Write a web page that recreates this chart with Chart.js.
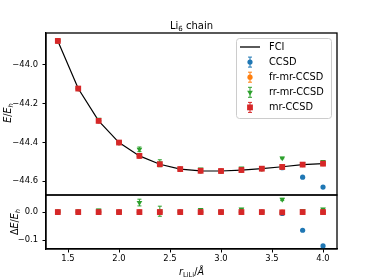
<!DOCTYPE html>
<html>
<head>
<meta charset="utf-8">
<script src="https://cdn.jsdelivr.net/npm/chart.js@4/dist/chart.umd.min.js"></script>
<style>
html, body { margin: 0; padding: 0; background: #fff; }
#wrap { width: 374px; height: 280px; }
</style>
</head>
<body>
<div id="wrap"><canvas id="chart" width="374" height="280"></canvas></div>
<script>
// bond lengths (Å)
const R = [1.4, 1.6, 1.8, 2.0, 2.2, 2.4, 2.6, 2.8, 3.0, 3.2, 3.4, 3.6, 3.8, 4.0];

// total energies (E_h), top panel
const FCI    = [-43.876, -44.122, -44.289, -44.401, -44.470, -44.513, -44.538, -44.547, -44.548, -44.543, -44.536, -44.526, -44.515, -44.510];
const CCSD_E = [-43.876, -44.122, -44.289, -44.401, -44.470, -44.513, -44.538, -44.547, -44.548, -44.543, -44.536, -44.531, -44.580, -44.631];
const FR_E   = [-43.876, -44.122, -44.289, -44.401, -44.470, -44.513, -44.538, -44.547, -44.548, -44.543, -44.536, -44.526, -44.515, -44.510];
const RR_E   = [-43.874, -44.120, -44.282, -44.400, -44.436, -44.508, -44.537, -44.538, -44.547, -44.533, -44.535, -44.481, -44.511, -44.500];
const MR_E   = [-43.876, -44.122, -44.289, -44.401, -44.470, -44.513, -44.538, -44.547, -44.548, -44.543, -44.536, -44.527, -44.515, -44.510];

// deviations from FCI (E_h), bottom panel
const CCSD_D = [0.0, 0.0, 0.0, 0.0, 0.0, 0.0, 0.0, 0.0, 0.0, 0.0, 0.0, -0.005, -0.065, -0.121];
const FR_D   = [0.0, 0.0, 0.0, 0.0, 0.0, 0.0, 0.0, 0.0, 0.0, 0.0, 0.0, 0.0, 0.0, 0.0];
const RR_D   = [0.002, 0.002, 0.007, 0.001, 0.034, 0.003, 0.001, 0.009, 0.001, 0.010, 0.001, 0.045, 0.004, 0.010];
const MR_D   = [0.0, 0.0, 0.0, 0.0, 0.0, 0.0, 0.0, 0.0, 0.0, 0.0, 0.0, -0.001, 0.0, 0.0];
const RR_ERR = [0.0, 0.0, 0.003, 0.0, 0.012, 0.018, 0.0, 0.003, 0.0, 0.003, 0.0, 0.004, 0.002, 0.003];

const X_TICKS = [1.5, 2.0, 2.5, 3.0, 3.5, 4.0];
const E_TICKS = [-44.6, -44.4, -44.2, -44.0];
const D_TICKS = [-0.1, 0.0];
const SERIES = ['FCI', 'CCSD', 'fr-mr-CCSD', 'rr-mr-CCSD', 'mr-CCSD'];

const BLUE = '#1f77b4', ORANGE = '#ff7f0e', GREEN = '#2ca02c', RED = '#d62728';
const FONT = 'DejaVu Sans';
const FS = 8.4;      // tick labels
const LEG_FS = 9.8;  // legend
const LAB_FS = 9.6;  // axis labels

const pts = ys => R.map((x, i) => ({ x: x, y: ys[i] }));
const fmt = v => Number(v).toFixed(1).replace('-', '\u2212');

function marker(label, ys, axis, color, style, radius, rot, order, err) {
    return {
        label: label,
        data: pts(ys),
        yAxisID: axis,
        showLine: false,
        backgroundColor: color,
        borderColor: color,
        pointStyle: style,
        pointRadius: radius,
        pointRotation: rot,
        pointBorderWidth: 0,
        order: order,
        err: err
    };
}

// error bars drawn just before each dataset's markers
const errorBars = {
    id: 'errorBars',
    beforeDatasetDraw(chart, args) {
        const ds = chart.data.datasets[args.index];
        if (!ds.err) return;
        const ys = chart.scales[ds.yAxisID];
        const ctx = chart.ctx;
        ctx.save();
        ctx.strokeStyle = ds.borderColor;
        ctx.lineWidth = 1;
        args.meta.data.forEach((p, i) => {
            const e = ds.err[i];
            if (!e) return;
            const v = ds.data[i].y;
            const y1 = ys.getPixelForValue(v + e), y2 = ys.getPixelForValue(v - e);
            ctx.beginPath();
            ctx.moveTo(p.x, y1); ctx.lineTo(p.x, y2);
            ctx.moveTo(p.x - 2, y1); ctx.lineTo(p.x + 2, y1);
            ctx.moveTo(p.x - 2, y2); ctx.lineTo(p.x + 2, y2);
            ctx.stroke();
        });
        ctx.restore();
    }
};

// text with italic / subscript pieces
function richText(ctx, parts, cx, cy, rotate) {
    const font = p => (p.it ? 'italic ' : '') + (p.sub ? LAB_FS * 0.7 : LAB_FS) + 'px "' + FONT + '"';
    let w = 0;
    parts.forEach(p => { ctx.font = font(p); p.w = ctx.measureText(p.t).width; w += p.w; });
    ctx.save();
    ctx.translate(cx, cy);
    if (rotate) ctx.rotate(-Math.PI / 2);
    ctx.fillStyle = '#000';
    ctx.textBaseline = 'alphabetic';
    let x = -w / 2;
    parts.forEach(p => {
        ctx.font = font(p);
        ctx.fillText(p.t, x, 3.5 + (p.sub ? 2 : 0));
        x += p.w;
    });
    ctx.restore();
}

const decor = {
    id: 'decor',
    afterDraw(chart) {
        const ctx = chart.ctx;
        const a = chart.chartArea;
        const split = chart.scales.y.bottom;

        // axes frames
        ctx.save();
        ctx.strokeStyle = '#000';
        ctx.lineWidth = 1.3;
        ctx.strokeRect(a.left, a.top, a.right - a.left, split - a.top);
        ctx.strokeRect(a.left, split, a.right - a.left, a.bottom - split);
        ctx.restore();

        // title and axis labels
        const mid = (a.left + a.right) / 2;
        ctx.save();
        ctx.fillStyle = '#000';
        ctx.textAlign = 'left';
        ctx.textBaseline = 'alphabetic';
        const big = '10px "' + FONT + '"', small = '7px "' + FONT + '"';
        const t1 = 'Li', t2 = '6', t3 = ' chain';
        ctx.font = big;
        const w1 = ctx.measureText(t1).width, w3 = ctx.measureText(t3).width;
        ctx.font = small;
        const w2 = ctx.measureText(t2).width;
        const tx = mid - (w1 + w2 + w3) / 2;
        ctx.font = big;
        ctx.fillText(t1, tx, 29);
        ctx.fillText(t3, tx + w1 + w2, 29);
        ctx.font = small;
        ctx.fillText(t2, tx + w1, 31);
        ctx.restore();

        richText(ctx, [{ t: 'r', it: true }, { t: 'LiLi', sub: true }, { t: '/' }, { t: 'Å', it: true }], mid, 271, false);
        richText(ctx, [{ t: 'E', it: true }, { t: '/' }, { t: 'E', it: true }, { t: 'h', it: true, sub: true }], 7, 113, true);
        richText(ctx, [{ t: 'Δ' }, { t: 'E', it: true }, { t: '/' }, { t: 'E', it: true }, { t: 'h', it: true, sub: true }], 14.5, (split + a.bottom) / 2, true);

        // legend
        const lx = 236, ly = 38, lw = 95, lh = 80;
        ctx.save();
        ctx.fillStyle = 'rgba(255,255,255,0.8)';
        ctx.strokeStyle = '#cccccc';
        ctx.lineWidth = 1;
        ctx.beginPath();
        ctx.roundRect(lx + 0.5, ly + 0.5, lw, lh, 3);
        ctx.fill();
        ctx.stroke();
        const items = chart.data.datasets.filter(d => d.yAxisID === 'y');
        items.forEach((d, i) => {
            const y = ly + 9 + i * 15.1;
            const x = 250;
            if (d.showLine) {
                ctx.strokeStyle = '#000';
                ctx.lineWidth = 1.3;
                ctx.beginPath();
                ctx.moveTo(240, y); ctx.lineTo(260, y);
                ctx.stroke();
            } else {
                ctx.strokeStyle = d.borderColor;
                ctx.lineWidth = 1;
                ctx.beginPath();
                ctx.moveTo(x, y - 5); ctx.lineTo(x, y + 5);
                ctx.moveTo(x - 2, y - 5); ctx.lineTo(x + 2, y - 5);
                ctx.moveTo(x - 2, y + 5); ctx.lineTo(x + 2, y + 5);
                ctx.stroke();
                ctx.fillStyle = d.backgroundColor;
                Chart.helpers.drawPoint(ctx, { pointStyle: d.pointStyle, radius: d.pointRadius, rotation: d.pointRotation, borderWidth: 0 }, x, y);
            }
            ctx.fillStyle = '#000';
            ctx.font = LEG_FS + 'px "' + FONT + '"';
            ctx.textBaseline = 'middle';
            ctx.fillText(d.label, 269, y + 0.5);
        });
        ctx.restore();
    }
};

const tickFont = { family: FONT, size: FS };

new Chart(document.getElementById('chart'), {
    type: 'scatter',
    data: {
        datasets: [
            { label: SERIES[0], data: pts(FCI), yAxisID: 'y', type: 'line', showLine: true, borderColor: '#000', borderWidth: 1.2, pointRadius: 0, fill: false, order: 10 },
            marker(SERIES[1], CCSD_E, 'y', BLUE, 'circle', 2.6, 0, 8, null),
            marker(SERIES[2], FR_E, 'y', ORANGE, 'circle', 2.6, 0, 7, null),
            marker(SERIES[3], RR_E, 'y', GREEN, 'triangle', 3.3, 180, 6, RR_ERR),
            marker(SERIES[4], MR_E, 'y', RED, 'rect', 4.1, 0, 5, null),
            marker(SERIES[1], CCSD_D, 'y2', BLUE, 'circle', 2.6, 0, 4, null),
            marker(SERIES[2], FR_D, 'y2', ORANGE, 'circle', 2.6, 0, 3, null),
            marker(SERIES[3], RR_D, 'y2', GREEN, 'triangle', 3.3, 180, 2, RR_ERR),
            marker(SERIES[4], MR_D, 'y2', RED, 'rect', 4.1, 0, 1, null)
        ]
    },
    options: {
        responsive: false,
        animation: false,
        devicePixelRatio: 1,
        layout: { padding: { top: 33, right: 37, left: 0, bottom: 0 } },
        plugins: { legend: { display: false }, tooltip: { enabled: false }, title: { display: false } },
        scales: {
            x: {
                type: 'linear',
                min: 1.284,
                max: 4.137,
                afterBuildTicks: s => { s.ticks = X_TICKS.map(v => ({ value: v })); },
                afterFit: s => { s.height = 31; },
                grid: { drawOnChartArea: false, drawTicks: true, tickLength: 3.5, color: '#000' },
                border: { color: '#000', width: 1.3 },
                ticks: { font: tickFont, color: '#000', padding: 1.5, maxRotation: 0, callback: v => fmt(v) }
            },
            y2: {
                type: 'linear',
                position: 'left',
                stack: 'panels',
                stackWeight: 1,
                min: -0.132,
                max: 0.061,
                afterBuildTicks: s => { s.ticks = D_TICKS.map(v => ({ value: v })); },
                afterFit: s => { s.width = 46; },
                grid: { drawOnChartArea: false, drawTicks: true, tickLength: 3.5, color: '#000' },
                border: { color: '#000', width: 1.3 },
                ticks: { font: tickFont, color: '#000', padding: 4.5, callback: v => fmt(v) }
            },
            y: {
                type: 'linear',
                position: 'left',
                stack: 'panels',
                stackWeight: 3,
                min: -44.672,
                max: -43.835,
                afterBuildTicks: s => { s.ticks = E_TICKS.map(v => ({ value: v })); },
                afterFit: s => { s.width = 46; },
                grid: { drawOnChartArea: false, drawTicks: true, tickLength: 3.5, color: '#000' },
                border: { color: '#000', width: 1.3 },
                ticks: { font: tickFont, color: '#000', padding: 4.5, callback: v => fmt(v) }
            }
        }
    },
    plugins: [errorBars, decor]
});
</script>
</body>
</html>
